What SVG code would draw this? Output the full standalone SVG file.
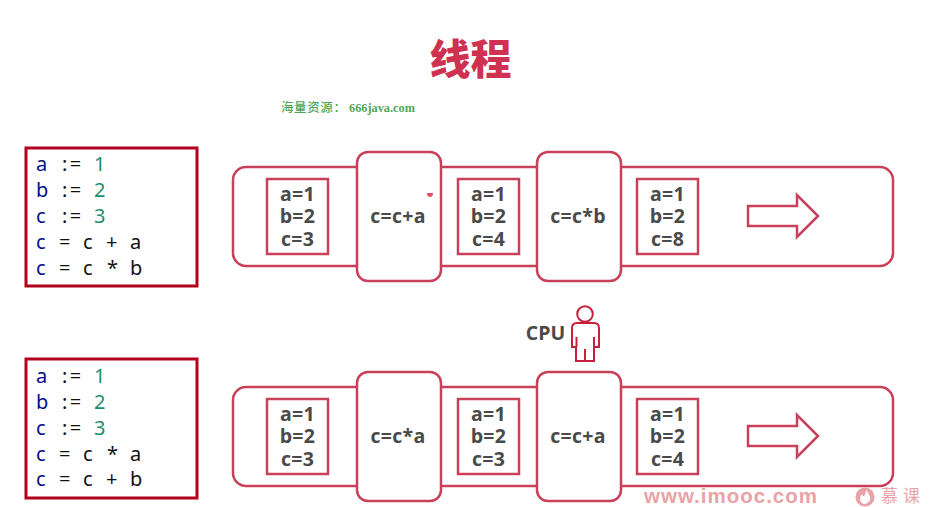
<svg xmlns="http://www.w3.org/2000/svg" width="929" height="507" viewBox="0 0 929 507">
<style>
.s{fill:#fff;stroke:#c8405a;stroke-width:2.5}
.track{fill:#fff;stroke:#c8405a;stroke-width:2.5}
.code{fill:#fff;stroke:#b3001f;stroke-width:3}
.t{font-family:"Open Sans","Noto Sans",sans-serif;font-weight:700;font-size:19.500px;letter-spacing:.3px;fill:#4a4a4a;text-anchor:middle}
.m{font-family:"Noto Sans","Open Sans",sans-serif;font-size:20px;fill:#111}
.w{letter-spacing:2.5px}
.v{fill:#000f8c}
.n{fill:#1c8f6a}
</style>
<defs>
<path id="arr" class="s" d="M748 -10H797V-21L818 0L797 21V10H748Z"/>
</defs>
<text x="470.500" y="74" font-family="'Noto Sans CJK SC',sans-serif" font-weight="900" font-size="41" fill="#cf3250" text-anchor="middle">线程</text>
<text x="281" y="112" font-family="'Noto Sans CJK SC',serif" font-weight="500" font-size="12.5" letter-spacing=".6" fill="#4fa658">海量资源：</text>
<text x="349" y="112" font-family="'Liberation Serif',serif" font-weight="700" font-size="12.300" fill="#4fa658">666java.com</text>

<g id="code-top">
<rect class="code" x="26" y="148" width="171" height="138"/>
<g class="m">
<text x="36" y="171"><tspan class="v">a</tspan><tspan class="w" x="62">:=</tspan><tspan class="n" x="94">1</tspan></text>
<text x="36" y="197"><tspan class="v">b</tspan><tspan class="w" x="62">:=</tspan><tspan class="n" x="94">2</tspan></text>
<text x="36" y="223"><tspan class="v">c</tspan><tspan class="w" x="62">:=</tspan><tspan class="n" x="94">3</tspan></text>
<text x="36" y="249"><tspan class="v">c</tspan><tspan x="59">=</tspan><tspan x="83">c</tspan><tspan x="106">+</tspan><tspan x="130">a</tspan></text>
<text x="36" y="275"><tspan class="v">c</tspan><tspan x="59">=</tspan><tspan x="83">c</tspan><tspan x="107">*</tspan><tspan x="130">b</tspan></text>
</g>
</g>
<g id="code-bottom">
<rect class="code" x="26" y="359" width="171" height="139"/>
<g class="m">
<text x="36" y="383"><tspan class="v">a</tspan><tspan class="w" x="62">:=</tspan><tspan class="n" x="94">1</tspan></text>
<text x="36" y="409"><tspan class="v">b</tspan><tspan class="w" x="62">:=</tspan><tspan class="n" x="94">2</tspan></text>
<text x="36" y="435"><tspan class="v">c</tspan><tspan class="w" x="62">:=</tspan><tspan class="n" x="94">3</tspan></text>
<text x="36" y="461"><tspan class="v">c</tspan><tspan x="59">=</tspan><tspan x="83">c</tspan><tspan x="107">*</tspan><tspan x="130">a</tspan></text>
<text x="36" y="486"><tspan class="v">c</tspan><tspan x="59">=</tspan><tspan x="83">c</tspan><tspan x="106">+</tspan><tspan x="130">b</tspan></text>
</g>
</g>

<g id="thread-top">
<rect class="track" x="233" y="167" width="660" height="99" rx="13"/>
<rect class="s" x="267" y="179" width="61" height="75"/>
<text class="t"><tspan x="297.500" y="201">a=1</tspan><tspan x="297.500" y="223">b=2</tspan><tspan x="297.500" y="246">c=3</tspan></text>
<rect class="s" x="357" y="152" width="84" height="129" rx="11"/>
<text class="t" x="398" y="223">c=c+a</text>
<rect class="s" x="458" y="179" width="61" height="75"/>
<text class="t"><tspan x="488.500" y="201">a=1</tspan><tspan x="488.500" y="223">b=2</tspan><tspan x="488.500" y="246">c=4</tspan></text>
<rect class="s" x="537" y="152" width="84" height="129" rx="11"/>
<text class="t" x="578" y="223">c=c*b</text>
<rect class="s" x="637" y="179" width="61" height="75"/>
<text class="t"><tspan x="667.500" y="201">a=1</tspan><tspan x="667.500" y="223">b=2</tspan><tspan x="667.500" y="246">c=8</tspan></text>
<use href="#arr" y="216"/>
</g>

<g id="thread-bottom">
<rect class="track" x="233" y="387" width="660" height="99" rx="13"/>
<rect class="s" x="267" y="399" width="61" height="75"/>
<text class="t"><tspan x="297.500" y="421">a=1</tspan><tspan x="297.500" y="443">b=2</tspan><tspan x="297.500" y="466">c=3</tspan></text>
<rect class="s" x="357" y="372" width="84" height="129" rx="11"/>
<text class="t" x="398" y="443">c=c*a</text>
<rect class="s" x="458" y="399" width="61" height="75"/>
<text class="t"><tspan x="488.500" y="421">a=1</tspan><tspan x="488.500" y="443">b=2</tspan><tspan x="488.500" y="466">c=3</tspan></text>
<rect class="s" x="537" y="372" width="84" height="129" rx="11"/>
<text class="t" x="578" y="443">c=c+a</text>
<rect class="s" x="637" y="399" width="61" height="75"/>
<text class="t"><tspan x="667.500" y="421">a=1</tspan><tspan x="667.500" y="443">b=2</tspan><tspan x="667.500" y="466">c=4</tspan></text>
<use href="#arr" y="436"/>
</g>

<g id="cpu">
<text x="545.500" y="340" font-family="'Open Sans',sans-serif" font-weight="700" font-size="19.500" fill="#4a4a4a" text-anchor="middle">CPU</text>
<g fill="none" stroke="#c8203c" stroke-width="2">
<circle cx="585" cy="314" r="7.800"/>
<path d="M576 347H572V328Q572 323 577 323H594Q599 323 599 328V347H594V361H576ZM576.500 337V347M594 337V347M585 349V361"/>
</g>
</g>

<path d="M427 193H433Q433 197 430 197Q427 197 427 193Z" fill="#e0304a" opacity=".85"/>

<g id="watermark" fill="#e9a3a6">
<text x="644" y="503" font-family="'Liberation Sans',sans-serif" font-weight="700" font-size="20.500" letter-spacing="1">www.imooc.com</text>
<circle cx="865" cy="497" r="9.500"/>
<path d="M866 490Q871 496 870 500Q868 504 864 504Q860 503 860 499Q860 496 862 494Q863 497 864 496Q866 494 866 490Z" fill="#fff"/>
<text x="881 903" y="502" font-family="'Noto Sans CJK SC',sans-serif" font-size="17">慕课</text>
</g>
</svg>
